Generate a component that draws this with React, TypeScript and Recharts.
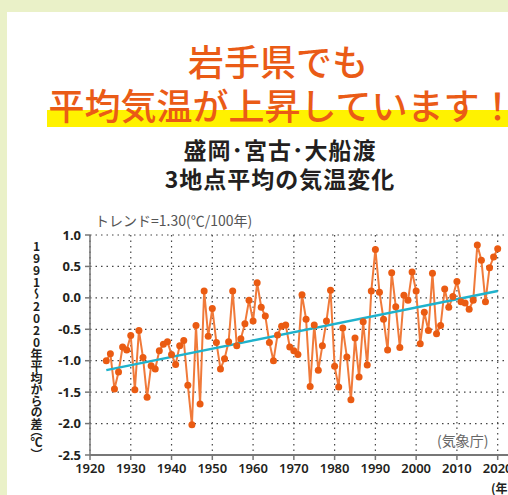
import React from 'react';
import { LineChart, Line, XAxis, YAxis, CartesianGrid } from 'recharts';

// 3-station mean (Morioka, Miyako, Ofunato), anomaly vs 1991-2020 mean (°C)
const years = Array.from({ length: 97 }, (_, i) => 1924 + i);
const anomalies = [
  -1.0, -0.89, -1.45, -1.18, -0.78, -0.83, -0.6, -1.46, -0.52, -0.95,
  -1.58, -1.08, -1.13, -0.84, -0.74, -0.7, -0.9, -1.06, -0.76, -0.68,
  -1.39, -2.02, -0.44, -1.69, 0.11, -0.61, -0.17, -0.71, -1.13, -0.97,
  -0.7, 0.11, -0.76, -0.65, -0.41, -0.04, -0.37, 0.24, -0.15, -0.29,
  -0.71, -1.0, -0.59, -0.45, -0.43, -0.78, -0.84, -0.9, 0.05, -0.34,
  -1.41, -0.43, -1.15, -0.76, -0.37, 0.12, -1.09, -1.42, -0.48, -0.94,
  -1.62, -0.64, -1.26, -0.38, -1.07, 0.11, 0.77, 0.09, -0.34, -0.83,
  0.4, -0.14, -0.79, 0.04, -0.04, 0.41, 0.11, -0.73, -0.23, -0.52,
  0.39, -0.57, -0.44, 0.14, -0.15, 0.02, 0.26, -0.06, -0.08, -0.18,
  -0.04, 0.84, 0.6, -0.06, 0.48, 0.65, 0.78,
];
const trendYears = [1924, 2020];
const trendValues = [-1.15, 0.11];
const xTicks = [1920, 1930, 1940, 1950, 1960, 1970, 1980, 1990, 2000, 2010, 2020];
const yTicks = [-2.5, -2.0, -1.5, -1.0, -0.5, 0.0, 0.5, 1.0];

const data = years.map((year, i) => ({ year, value: anomalies[i] }));
const trend = trendYears.map((year, i) => ({ year, trend: trendValues[i] }));

const JP = '"Noto Sans CJK JP", "Noto Sans", sans-serif';

export default function App() {
  return (
    <div
      style={{
        position: 'absolute',
        left: 0,
        top: 0,
        width: 508,
        height: 495,
        overflow: 'hidden',
        background: '#eaf1c8',
        fontFamily: JP,
      }}
    >
      <div style={{ position: 'absolute', left: 7, top: 12, width: 520, height: 500, background: '#fff' }} />
      <div style={{ position: 'absolute', left: 47, top: 110, width: 480, height: 17, background: '#fff200' }} />
      <div
        style={{
          position: 'absolute',
          left: 0,
          width: 556,
          top: 38,
          textAlign: 'center',
          color: '#ea5b16',
          fontSize: 36,
          fontWeight: 500,
          lineHeight: '44px',
          whiteSpace: 'nowrap',
        }}
      >
        <div>岩手県でも</div>
        <div style={{ marginLeft: 8 }}>平均気温が上昇しています！</div>
      </div>
      <div
        style={{
          position: 'absolute',
          left: 0,
          width: 560,
          top: 135,
          textAlign: 'center',
          color: '#231f20',
          fontSize: 23,
          fontWeight: 700,
          lineHeight: '29px',
          letterSpacing: 1,
          whiteSpace: 'nowrap',
        }}
      >
        <div>盛岡･宮古･大船渡</div>
        <div>3地点平均の気温変化</div>
      </div>
      <div style={{ position: 'absolute', left: 95, top: 210, color: '#555', fontSize: 14, whiteSpace: 'nowrap' }}>
        トレンド=1.30(℃/100年)
      </div>
      <div
        style={{
          position: 'absolute',
          left: 28,
          top: 240,
          writingMode: 'vertical-rl',
          textOrientation: 'upright',
          fontFeatureSettings: '"vpal"',
          fontSize: 12,
          fontWeight: 700,
          color: '#231f20',
          lineHeight: '16px',
          whiteSpace: 'nowrap',
        }}
      >
        1991〜2020年平均からの差（℃）
      </div>
      <div style={{ position: 'absolute', left: 437, top: 430, color: '#666', fontSize: 14, whiteSpace: 'nowrap' }}>
        (気象庁)
      </div>
      <div style={{ position: 'absolute', left: 491, top: 479, color: '#231f20', fontSize: 12, fontWeight: 700, whiteSpace: 'nowrap' }}>
        (年)
      </div>
      <div style={{ position: 'absolute', left: 0, top: 0 }}>
        <LineChart width={520} height={495} data={data} margin={{ top: 235, right: 6, bottom: 10, left: 0 }}>
          <CartesianGrid stroke="#444" strokeDasharray="1.5 4" strokeWidth={1.2} />
          <XAxis
            dataKey="year"
            type="number"
            domain={[1920, 2024]}
            ticks={xTicks}
            height={30}
            tickSize={5}
            tickMargin={4}
            axisLine={{ stroke: '#777', strokeWidth: 2 }}
            tickLine={{ stroke: '#777', strokeWidth: 1.5 }}
            tick={{ fill: '#231f20', fontSize: 13, fontWeight: 600, fontFamily: '"Noto Sans", sans-serif' }}
          />
          <YAxis
            type="number"
            domain={[-2.5, 1.0]}
            ticks={yTicks}
            width={90}
            tickSize={5}
            tickMargin={4}
            tickFormatter={(v: number) => v.toFixed(1)}
            axisLine={{ stroke: '#777', strokeWidth: 1.5 }}
            tickLine={{ stroke: '#777', strokeWidth: 1.5 }}
            tick={{ fill: '#231f20', fontSize: 13, fontWeight: 700, fontFamily: '"Noto Sans", sans-serif' }}
          />
          <Line
            dataKey="value"
            stroke="#f07a3a"
            strokeWidth={2}
            dot={{ r: 3.5, fill: '#ea5b12', stroke: 'none' }}
            isAnimationActive={false}
          />
          <Line
            data={trend}
            dataKey="trend"
            stroke="#1fb2cc"
            strokeWidth={2.5}
            dot={false}
            isAnimationActive={false}
          />
        </LineChart>
      </div>
    </div>
  );
}
